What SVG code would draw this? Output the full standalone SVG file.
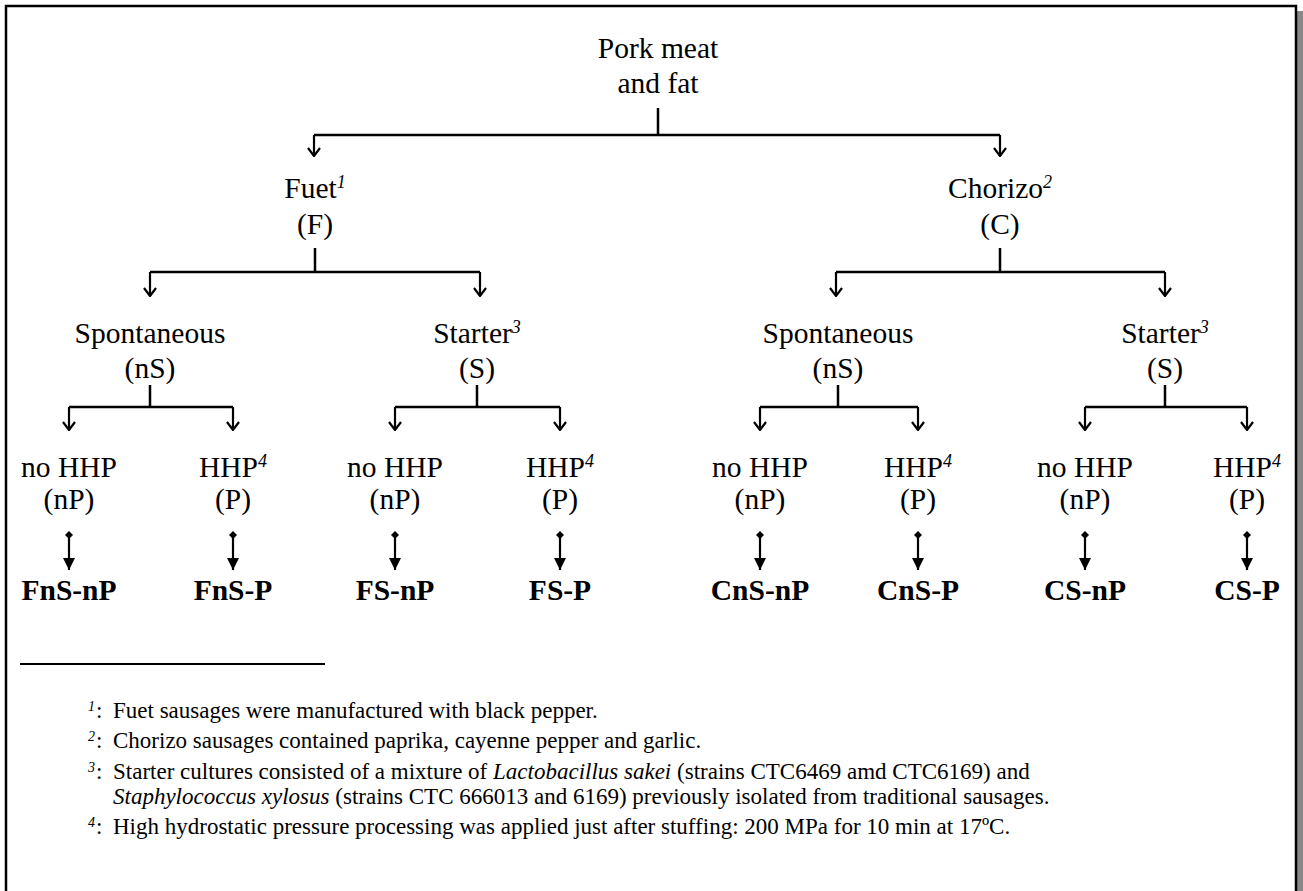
<svg xmlns="http://www.w3.org/2000/svg" width="1303" height="891" viewBox="0 0 1303 891">
<defs>
<style>
.t{font-family:"Liberation Serif","Times New Roman",serif;font-size:29.5px;fill:#000;text-anchor:middle}
.b{font-family:"Liberation Serif","Times New Roman",serif;font-size:29.5px;font-weight:bold;fill:#000;text-anchor:middle}
.sup{font-style:italic;font-size:18px}
.fn{font-family:"Liberation Serif","Times New Roman",serif;font-size:23px;fill:#000}
.fs{font-family:"Liberation Serif","Times New Roman",serif;font-style:italic;font-size:14px;fill:#000}
.i{font-style:italic}
.ln{stroke:#000;stroke-width:2.5;fill:none}
.ah{stroke:#000;stroke-width:2.2;fill:none}
</style>
<marker id="open" viewBox="0 0 14 10" refX="7" refY="9" markerWidth="14" markerHeight="10" markerUnits="userSpaceOnUse">
<path d="M1,1 L7,9 L13,1" fill="none" stroke="#000" stroke-width="2.2"/>
</marker>
<marker id="tri" viewBox="0 0 12 12" refX="6" refY="12" markerWidth="12" markerHeight="12" markerUnits="userSpaceOnUse">
<path d="M0,0 L12,0 L6,12 Z" fill="#000"/>
</marker>
<marker id="dia" viewBox="0 0 8 8" refX="4" refY="4" markerWidth="8" markerHeight="8" markerUnits="userSpaceOnUse">
<path d="M4,0 L8,4 L4,8 L0,4 Z" fill="#000"/>
</marker>
</defs>
<rect width="1303" height="891" fill="#fff"/>
<rect x="1297" y="11" width="6" height="880" fill="#888"/>
<rect x="6" y="6" width="1290" height="900" fill="none" stroke="#000" stroke-width="2.5"/>

<g id="connectors">
<path class="ln" d="M658,108 V135 M314,135 H1000 M315,248 V272 M150,272 H480 M1000,248 V272 M836,272 H1165 M150,385 V407 M69,407 H233 M477,385 V407 M395,407 H560 M838,385 V407 M760,407 H918 M1165,385 V407 M1085,407 H1247"/>
<g class="ah">
<path d="M314,135 V156" marker-end="url(#open)"/>
<path d="M1000,135 V156" marker-end="url(#open)"/>
<path d="M150,272 V296" marker-end="url(#open)"/>
<path d="M480,272 V296" marker-end="url(#open)"/>
<path d="M836,272 V296" marker-end="url(#open)"/>
<path d="M1165,272 V296" marker-end="url(#open)"/>
<path d="M69,407 V430" marker-end="url(#open)"/>
<path d="M233,407 V430" marker-end="url(#open)"/>
<path d="M395,407 V430" marker-end="url(#open)"/>
<path d="M560,407 V430" marker-end="url(#open)"/>
<path d="M760,407 V430" marker-end="url(#open)"/>
<path d="M918,407 V430" marker-end="url(#open)"/>
<path d="M1085,407 V430" marker-end="url(#open)"/>
<path d="M1247,407 V430" marker-end="url(#open)"/>
</g>
<g class="ah">
<path d="M69,535 V570" marker-start="url(#dia)" marker-end="url(#tri)"/>
<path d="M233,535 V570" marker-start="url(#dia)" marker-end="url(#tri)"/>
<path d="M395,535 V570" marker-start="url(#dia)" marker-end="url(#tri)"/>
<path d="M560,535 V570" marker-start="url(#dia)" marker-end="url(#tri)"/>
<path d="M760,535 V570" marker-start="url(#dia)" marker-end="url(#tri)"/>
<path d="M918,535 V570" marker-start="url(#dia)" marker-end="url(#tri)"/>
<path d="M1085,535 V570" marker-start="url(#dia)" marker-end="url(#tri)"/>
<path d="M1247,535 V570" marker-start="url(#dia)" marker-end="url(#tri)"/>
</g>
</g>

<g id="root"><text class="t" x="658" y="58">Pork meat</text><text class="t" x="658" y="93">and fat</text></g>
<g id="fuet"><text class="t" x="315" y="198">Fuet<tspan class="sup" dy="-10">1</tspan></text><text class="t" x="315" y="234">(F)</text></g>
<g id="chorizo"><text class="t" x="1000" y="198">Chorizo<tspan class="sup" dy="-10">2</tspan></text><text class="t" x="1000" y="234">(C)</text></g>
<g id="f-spont"><text class="t" x="150" y="343">Spontaneous</text><text class="t" x="150" y="378">(nS)</text></g>
<g id="f-start"><text class="t" x="477" y="343">Starter<tspan class="sup" dy="-10">3</tspan></text><text class="t" x="477" y="378">(S)</text></g>
<g id="c-spont"><text class="t" x="838" y="343">Spontaneous</text><text class="t" x="838" y="378">(nS)</text></g>
<g id="c-start"><text class="t" x="1165" y="343">Starter<tspan class="sup" dy="-10">3</tspan></text><text class="t" x="1165" y="378">(S)</text></g>

<g id="fns-np"><text class="t" x="69" y="477">no HHP</text><text class="t" x="69" y="509">(nP)</text><text class="b" x="69" y="600">FnS-nP</text></g>
<g id="fns-p"><text class="t" x="233" y="477">HHP<tspan class="sup" dy="-10">4</tspan></text><text class="t" x="233" y="509">(P)</text><text class="b" x="233" y="600">FnS-P</text></g>
<g id="fs-np"><text class="t" x="395" y="477">no HHP</text><text class="t" x="395" y="509">(nP)</text><text class="b" x="395" y="600">FS-nP</text></g>
<g id="fs-p"><text class="t" x="560" y="477">HHP<tspan class="sup" dy="-10">4</tspan></text><text class="t" x="560" y="509">(P)</text><text class="b" x="560" y="600">FS-P</text></g>
<g id="cns-np"><text class="t" x="760" y="477">no HHP</text><text class="t" x="760" y="509">(nP)</text><text class="b" x="760" y="600">CnS-nP</text></g>
<g id="cns-p"><text class="t" x="918" y="477">HHP<tspan class="sup" dy="-10">4</tspan></text><text class="t" x="918" y="509">(P)</text><text class="b" x="918" y="600">CnS-P</text></g>
<g id="cs-np"><text class="t" x="1085" y="477">no HHP</text><text class="t" x="1085" y="509">(nP)</text><text class="b" x="1085" y="600">CS-nP</text></g>
<g id="cs-p"><text class="t" x="1247" y="477">HHP<tspan class="sup" dy="-10">4</tspan></text><text class="t" x="1247" y="509">(P)</text><text class="b" x="1247" y="600">CS-P</text></g>

<g id="footnotes">
<line x1="20" y1="664" x2="325" y2="664" stroke="#000" stroke-width="2"/>
<text class="fs" x="88" y="711">1</text><text class="fn" x="96" y="718">:</text>
<text class="fn" x="113" y="718">Fuet sausages were manufactured with black pepper.</text>
<text class="fs" x="88" y="741">2</text><text class="fn" x="96" y="748">:</text>
<text class="fn" x="113" y="748">Chorizo sausages contained paprika, cayenne pepper and garlic.</text>
<text class="fs" x="88" y="772">3</text><text class="fn" x="96" y="779">:</text>
<text class="fn" x="113" y="779">Starter cultures consisted of a mixture of <tspan class="i">Lactobacillus sakei</tspan> (strains CTC6469 amd CTC6169) and</text>
<text class="fn" x="113" y="804"><tspan class="i">Staphylococcus xylosus</tspan> (strains CTC 666013 and 6169) previously isolated from traditional sausages.</text>
<text class="fs" x="88" y="827">4</text><text class="fn" x="96" y="834">:</text>
<text class="fn" x="113" y="834">High hydrostatic pressure processing was applied just after stuffing: 200 MPa for 10 min at 17ºC.</text>
</g>
</svg>
